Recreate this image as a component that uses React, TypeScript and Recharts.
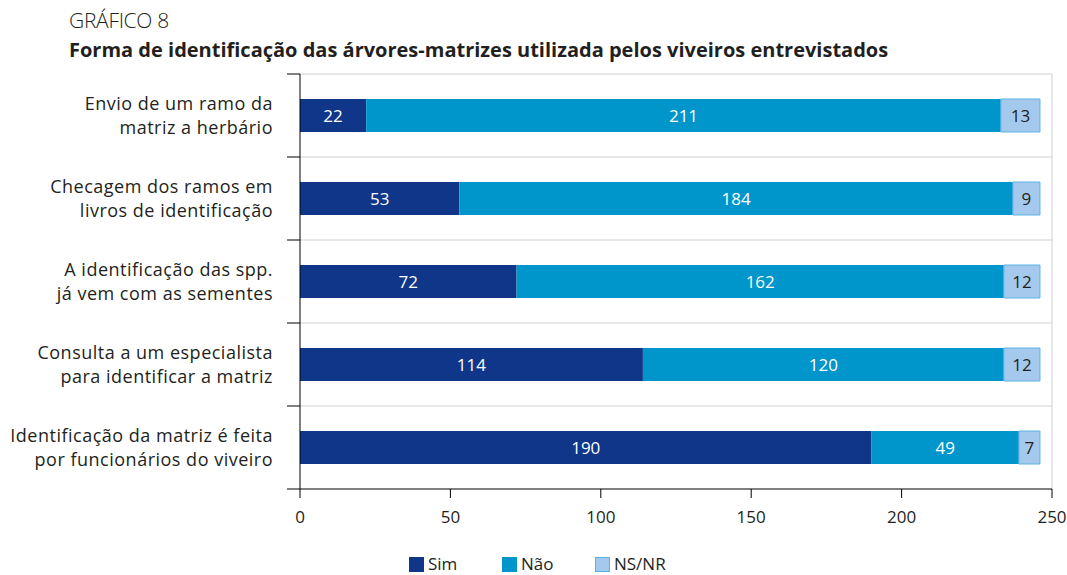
import React from 'react';
import { BarChart, Bar, XAxis, YAxis, CartesianGrid, LabelList } from 'recharts';

const categories = [
    'Envio de um ramo da\nmatriz a herbário',
    'Checagem dos ramos em\nlivros de identificação',
    'A identificação das spp.\njá vem com as sementes',
    'Consulta a um especialista\npara identificar a matriz',
    'Identificação da matriz é feita\npor funcionários do viveiro',
];
const sim = [22, 53, 72, 114, 190];
const nao = [211, 184, 162, 120, 49];
const nsnr = [13, 9, 12, 12, 7];
const xTicks = [0, 50, 100, 150, 200, 250];

const series = [
    { key: 'sim', name: 'Sim', color: '#10368a', stroke: 'none', text: '#ffffff' },
    { key: 'nao', name: 'Não', color: '#0096cc', stroke: 'none', text: '#ffffff' },
    { key: 'nsnr', name: 'NS/NR', color: '#a5c9ec', stroke: '#5ab3e3', text: '#231f20' },
];

const data = categories.map((c, i) => ({ cat: c, sim: sim[i], nao: nao[i], nsnr: nsnr[i] }));

const FONT = '"Open Sans", "Noto Sans", sans-serif';
const TEXT = '#231f20';
const BAND = 83;

const CatTick = (props: any) => {
    const { x, y, payload, index } = props;
    const lines = String(payload.value).split('\n');
    const axisX = x;
    return (
        <g>
            <text x={x - 27} y={y} textAnchor="end" fontSize={18} letterSpacing={0.5} fill={TEXT} fontFamily={FONT}>
                {lines.map((l, i) => (
                    <tspan key={i} x={x - 27} dy={i === 0 ? -6 : 24}>{l}</tspan>
                ))}
            </text>
            {index === 0 && <line x1={axisX - 13} x2={axisX} y1={y - BAND / 2} y2={y - BAND / 2} stroke="#000" />}
            <line x1={axisX - 13} x2={axisX} y1={y + BAND / 2} y2={y + BAND / 2} stroke="#000" />
        </g>
    );
};

export default function App() {
    return (
        <div style={{ position: 'fixed', left: 0, top: 0, width: 1067, height: 575, background: '#fff', fontFamily: FONT, color: TEXT, overflow: 'hidden' }}>
            <div style={{ position: 'absolute', left: 69, top: 6, fontSize: 21, fontWeight: 300, letterSpacing: -0.3 }}>GRÁFICO 8</div>
            <div style={{ position: 'absolute', left: 69, top: 36, fontSize: 20, fontWeight: 700, whiteSpace: 'nowrap' }}>
                Forma de identificação das árvores-matrizes utilizada pelos viveiros entrevistados
            </div>
            <BarChart
                width={1067}
                height={575}
                data={data}
                layout="vertical"
                margin={{ top: 74, right: 15, left: 10, bottom: 56 }}
                barSize={33}
                style={{ overflow: 'visible' }}
            >
                <CartesianGrid
                    stroke="#d0d0d0"
                    horizontalCoordinatesGenerator={({ offset }: any) =>
                        categories.map((_, i) => offset.top + (i * offset.height) / categories.length)
                    }
                    verticalCoordinatesGenerator={({ offset }: any) => [offset.left + offset.width]}
                />
                <XAxis
                    type="number"
                    domain={[0, 250]}
                    ticks={xTicks}
                    axisLine={{ stroke: '#000' }}
                    tickLine={{ stroke: '#000' }}
                    tickSize={9}
                    tickMargin={13}
                    height={30}
                    tick={{ fontSize: 17, fill: TEXT, fontFamily: FONT }}
                />
                <YAxis
                    type="category"
                    dataKey="cat"
                    width={290}
                    axisLine={{ stroke: '#000' }}
                    tickLine={false}
                    tickSize={0}
                    tickMargin={0}
                    tick={<CatTick />}
                    interval={0}
                />
                {series.map((s) => (
                    <Bar
                        key={s.key}
                        dataKey={s.key}
                        name={s.name}
                        stackId="a"
                        fill={s.color}
                        stroke={s.stroke}
                        isAnimationActive={false}
                    >
                        <LabelList dataKey={s.key} position="center" fill={s.text} fontSize={17} fontFamily={FONT} />
                    </Bar>
                ))}
            </BarChart>
            <div style={{ position: 'absolute', top: 554, left: 409, display: 'flex', fontSize: 17, lineHeight: '20px' }}>
                {series.map((s) => (
                    <div key={s.key} style={{ display: 'flex', alignItems: 'center', width: 93 }}>
                        <span style={{ display: 'inline-block', width: 15, height: 15, background: s.color, border: s.stroke === 'none' ? 'none' : `1px solid ${s.stroke}`, boxSizing: 'border-box', marginRight: 4 }} />
                        {s.name}
                    </div>
                ))}
            </div>
        </div>
    );
}
